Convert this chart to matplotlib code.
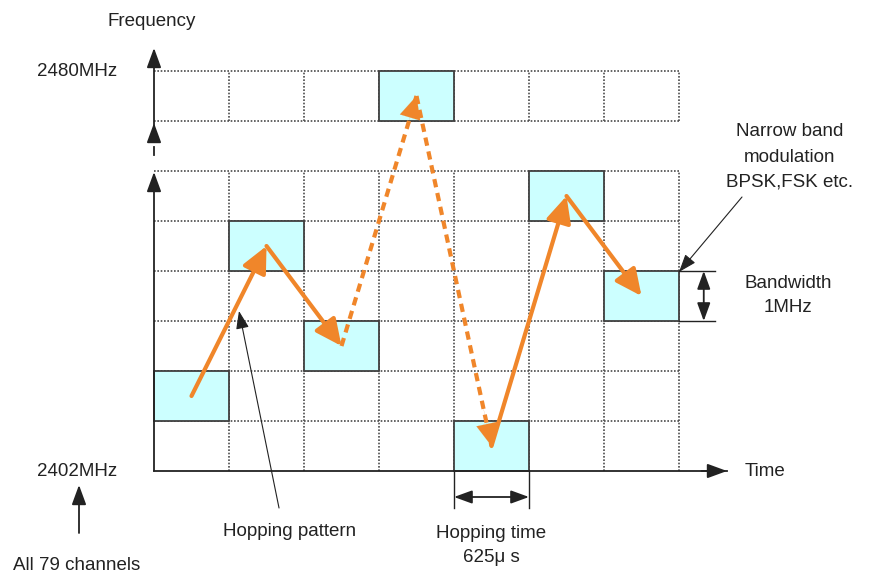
import matplotlib
matplotlib.use("Agg")
import matplotlib.pyplot as plt
from matplotlib.patches import Rectangle, FancyArrowPatch

# ---------------- Diagram data ---------------- #
slots = [0, 1, 2, 3, 4, 5, 6]          # hop time slots
channels = [1, 4, 2, 7, 0, 5, 3]       # channel row of each hop (7 = top band row)
dashed_hops = [2, 3]                   # hops going to / from the top row
n_slots = 7
n_low_rows = 6
top_row = 7

freq_top_label = "2480MHz"
freq_bottom_label = "2402MHz"

ORANGE = "#F0862A"
CYAN = "#CCFFFF"
GRID = "#4a4a4a"
INK = "#222222"

plt.rcParams['font.family'] = ['Liberation Sans', 'DejaVu Sans']
FS = 13.5

fig = plt.figure(figsize=(8.71, 5.76), dpi=100)
ax = fig.add_axes([0, 0, 1, 1])
# one slot = 75 px, one channel = 50 px
ax.set_xlim(-154 / 75, (871 - 154) / 75)
ax.set_ylim((471 - 576) / 50, 471 / 50)
ax.axis('off')

dot = (0, (1, 1))

# ---------------- Grid ---------------- #
for y in range(1, n_low_rows + 1):
    ax.plot([0, n_slots], [y, y], color=GRID, lw=1.2, ls=dot, zorder=1)
for y in [top_row, top_row + 1]:
    ax.plot([0, n_slots], [y, y], color=GRID, lw=1.2, ls=dot, zorder=1)
for x in range(1, n_slots + 1):
    ax.plot([x, x], [0, n_low_rows], color=GRID, lw=1.2, ls=dot, zorder=1)
    ax.plot([x, x], [top_row, top_row + 1], color=GRID, lw=1.2, ls=dot, zorder=1)

# ---------------- Occupied cells ---------------- #
for s, c in zip(slots, channels):
    ax.add_patch(Rectangle((s, c), 1, 1, facecolor=CYAN, edgecolor="#404040",
                           lw=1.3, zorder=2))


def arrow(p0, p1, style='-|>', hl=0.6, hw=0.22, lw=1.3, color=INK, ms=20, z=4):
    a = FancyArrowPatch(p0, p1, arrowstyle=f'{style},head_length={hl},head_width={hw}',
                        mutation_scale=ms, lw=lw, color=color, shrinkA=0, shrinkB=0,
                        zorder=z)
    ax.add_patch(a)


# ---------------- Axes ---------------- #
ax.plot([0, n_slots + 0.64], [0, 0], color=INK, lw=1.3, zorder=3)
arrow((n_slots + 0.3, 0), (n_slots + 0.64, 0))
arrow((0, 0), (0, n_low_rows - 0.02))
ax.plot([0, 0], [6.32, 6.48], color=INK, lw=1.3, zorder=3)
arrow((0, 6.64), (0, 6.96))
arrow((0, 6.64), (0, 8.46))

# ---------------- Hopping pattern ---------------- #
cx = [s + 0.5 for s in slots]
cy = [c + 0.5 for c in channels]
for i in range(len(slots) - 1):
    p0 = (cx[i], cy[i])
    p1 = (cx[i + 1], cy[i + 1])
    if i in dashed_hops:
        ax.plot([p0[0], p1[0]], [p0[1], p1[1]], color=ORANGE, lw=3,
                ls=(0, (2.0, 1.4)), solid_capstyle='butt', zorder=5)
        q = (p1[0] - 0.12 * (p1[0] - p0[0]), p1[1] - 0.12 * (p1[1] - p0[1]))
        arrow(q, p1, hl=0.8, hw=0.38, lw=0.1, color=ORANGE, z=5)
    else:
        arrow(p0, p1, hl=0.8, hw=0.38, lw=3, color=ORANGE, z=5)

# ---------------- Annotations ---------------- #
# hopping time
for x in [4, 5]:
    ax.plot([x, x], [0, -0.74], color=INK, lw=1.0, zorder=3)
arrow((4, -0.52), (5, -0.52), style='<|-|>', hl=0.55, hw=0.2, lw=1.3)
# bandwidth
for y in [3, 4]:
    ax.plot([7, 7.48], [y, y], color=INK, lw=1.0, zorder=3)
arrow((7.33, 3), (7.33, 4), style='<|-|>', hl=0.55, hw=0.2, lw=1.3)
# narrow band
arrow((7.84, 5.48), (7.0, 3.98), hl=0.55, hw=0.2, lw=0.8)
# hopping pattern
arrow((1.667, -0.74), (1.133, 3.2), hl=0.55, hw=0.2, lw=0.8)
# all channels
arrow((-1.0, -1.24), (-1.0, -0.28), hl=0.6, hw=0.22, lw=1.3)

# ---------------- Texts ---------------- #
tk = dict(fontsize=FS, color=INK)
ax.text(-0.03, 8.98, "Frequency", ha='center', va='center', **tk)
ax.text(-0.49, 7.98, freq_top_label, ha='right', va='center', **tk)
ax.text(-0.49, 0.0, freq_bottom_label, ha='right', va='center', **tk)
ax.text(7.88, 0.0, "Time", ha='left', va='center', **tk)
ax.text(1.81, -1.22, "Hopping pattern", ha='center', va='center', **tk)
ax.text(4.5, -1.24, "Hopping time", ha='center', va='center', **tk)
ax.text(4.5, -1.74, "625\u03bc s", ha='center', va='center', **tk)
ax.text(-1.88, -2.06, "All 79 channels", ha='left', va='bottom', **tk)
ax.text(8.48, 6.78, "Narrow band", ha='center', va='center', **tk)
ax.text(8.48, 6.26, "modulation", ha='center', va='center', **tk)
ax.text(8.48, 5.78, "BPSK,FSK etc.", ha='center', va='center', **tk)
ax.text(8.45, 3.76, "Bandwidth", ha='center', va='center', **tk)
ax.text(8.45, 3.26, "1MHz", ha='center', va='center', **tk)

fig.savefig("out.png", dpi=100)
